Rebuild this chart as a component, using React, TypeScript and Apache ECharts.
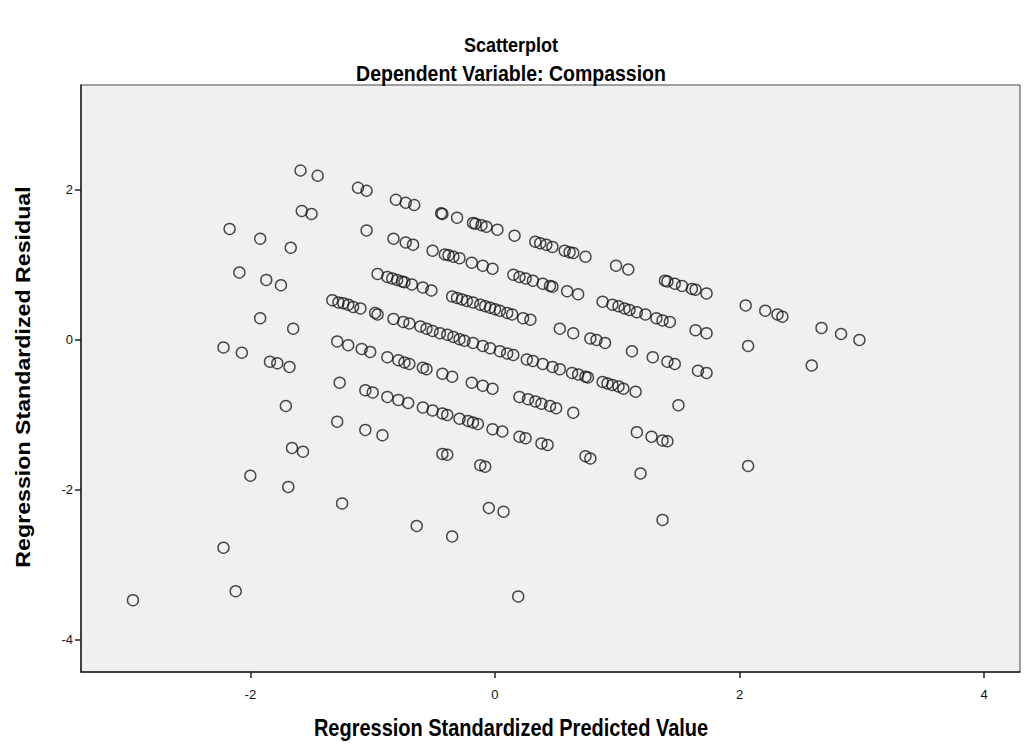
import React, { useEffect, useRef } from "react";
import * as echarts from "echarts";

// Regression Standardized Predicted Value (x), Regression Standardized Residual (y)
const band1: [number, number][] = [
  [-1.59, 2.26], [-1.45, 2.19], [-1.12, 2.03], [-1.05, 1.99], [-0.81, 1.87], [-0.73, 1.83], [-0.66, 1.8],
  [-0.44, 1.69], [-0.43, 1.68], [-0.31, 1.63], [-0.18, 1.56], [-0.16, 1.55], [-0.11, 1.53], [-0.07, 1.51],
  [0.02, 1.47], [0.16, 1.39], [0.33, 1.31], [0.37, 1.29], [0.42, 1.27], [0.47, 1.24], [0.57, 1.19],
  [0.61, 1.17], [0.64, 1.16], [0.74, 1.11], [0.99, 0.99], [1.09, 0.94], [1.39, 0.79], [1.41, 0.78],
  [1.47, 0.75], [1.53, 0.72], [1.61, 0.68], [1.64, 0.67], [1.73, 0.62], [2.05, 0.46], [2.21, 0.39],
  [2.31, 0.34], [2.35, 0.31], [2.67, 0.16], [2.83, 0.08], [2.98, 0.0],
];
const band2: [number, number][] = [
  [-1.58, 1.72], [-1.5, 1.68], [-1.05, 1.46], [-0.83, 1.35], [-0.73, 1.3], [-0.67, 1.27], [-0.51, 1.19],
  [-0.41, 1.14], [-0.38, 1.13], [-0.34, 1.11], [-0.29, 1.09], [-0.19, 1.03], [-0.1, 0.99], [-0.02, 0.95],
  [0.15, 0.87], [0.2, 0.84], [0.25, 0.82], [0.31, 0.79], [0.39, 0.75], [0.45, 0.72], [0.47, 0.71],
  [0.59, 0.65], [0.68, 0.61], [0.88, 0.51], [0.96, 0.47], [1.01, 0.45], [1.06, 0.42], [1.1, 0.4],
  [1.16, 0.37], [1.23, 0.34], [1.32, 0.29], [1.37, 0.26], [1.43, 0.24], [1.64, 0.13], [1.73, 0.09],
  [2.07, -0.08], [2.59, -0.34],
];
const band3: [number, number][] = [
  [-2.17, 1.48], [-1.92, 1.35], [-1.67, 1.23], [-0.96, 0.88], [-0.88, 0.84], [-0.84, 0.82], [-0.8, 0.8],
  [-0.76, 0.78], [-0.74, 0.77], [-0.68, 0.74], [-0.59, 0.7], [-0.52, 0.66], [-0.35, 0.58], [-0.31, 0.56],
  [-0.27, 0.54], [-0.23, 0.52], [-0.18, 0.5], [-0.12, 0.47], [-0.08, 0.45], [-0.04, 0.43], [0.0, 0.41],
  [0.04, 0.39], [0.1, 0.36], [0.14, 0.34], [0.23, 0.29], [0.29, 0.27], [0.53, 0.15], [0.64, 0.09],
  [0.78, 0.02], [0.83, 0.0], [0.9, -0.04], [1.12, -0.15], [1.29, -0.23], [1.41, -0.29], [1.47, -0.32],
  [1.66, -0.41], [1.73, -0.44],
];
const band4: [number, number][] = [
  [-2.09, 0.9], [-1.87, 0.8], [-1.75, 0.73], [-1.33, 0.53], [-1.28, 0.5], [-1.24, 0.49], [-1.2, 0.47],
  [-1.16, 0.44], [-1.1, 0.42], [-0.98, 0.36], [-0.96, 0.34], [-0.83, 0.28], [-0.75, 0.24], [-0.7, 0.22],
  [-0.61, 0.18], [-0.56, 0.15], [-0.51, 0.12], [-0.45, 0.09], [-0.39, 0.07], [-0.34, 0.04], [-0.29, 0.01],
  [-0.25, -0.01], [-0.18, -0.04], [-0.1, -0.08], [-0.04, -0.11], [0.04, -0.15], [0.1, -0.18], [0.15, -0.2],
  [0.26, -0.26], [0.31, -0.28], [0.39, -0.32], [0.47, -0.36], [0.53, -0.39], [0.63, -0.44], [0.68, -0.46],
  [0.74, -0.49], [0.76, -0.5], [0.88, -0.56], [0.92, -0.58], [0.96, -0.6], [1.01, -0.62], [1.05, -0.65],
  [1.15, -0.69], [1.5, -0.87],
];
const band5: [number, number][] = [
  [-1.92, 0.29], [-1.65, 0.15], [-1.29, -0.02], [-1.2, -0.07], [-1.09, -0.12], [-1.02, -0.16], [-0.88, -0.23],
  [-0.79, -0.27], [-0.74, -0.3], [-0.7, -0.32], [-0.59, -0.37], [-0.56, -0.39], [-0.43, -0.45], [-0.35, -0.49],
  [-0.19, -0.57], [-0.1, -0.61], [-0.02, -0.65], [0.2, -0.76], [0.27, -0.79], [0.33, -0.82], [0.38, -0.85],
  [0.45, -0.88], [0.5, -0.91], [0.64, -0.97], [1.16, -1.23], [1.28, -1.29], [1.37, -1.34], [1.41, -1.35],
  [2.07, -1.68],
];
const band6: [number, number][] = [
  [-2.22, -0.1], [-2.07, -0.17], [-1.84, -0.29], [-1.78, -0.31], [-1.68, -0.36], [-1.27, -0.57], [-1.06, -0.67],
  [-1.0, -0.7], [-0.88, -0.76], [-0.79, -0.8], [-0.71, -0.84], [-0.59, -0.9], [-0.51, -0.94], [-0.43, -0.98],
  [-0.39, -1.0], [-0.29, -1.05], [-0.22, -1.08], [-0.18, -1.1], [-0.14, -1.12], [-0.02, -1.19], [0.06, -1.22],
  [0.2, -1.29], [0.25, -1.31], [0.38, -1.38], [0.43, -1.4], [0.74, -1.55], [0.78, -1.58], [1.19, -1.78],
];
const band7: [number, number][] = [
  [-1.71, -0.88], [-1.29, -1.09], [-1.06, -1.2], [-0.92, -1.27], [-0.43, -1.52], [-0.39, -1.53],
  [-0.12, -1.67], [-0.08, -1.69], [1.37, -2.4],
];
const band8: [number, number][] = [[-1.66, -1.44], [-1.57, -1.49], [-0.05, -2.24], [0.07, -2.29]];
const band9: [number, number][] = [[-2.0, -1.81], [-1.69, -1.96], [-1.25, -2.18], [-0.64, -2.48], [-0.35, -2.62]];
const lowOutliers: [number, number][] = [[0.19, -3.42], [-2.22, -2.77], [-2.12, -3.35], [-2.96, -3.47]];

const xTicks = [-2, 0, 2, 4];
const yTicks = [-4, -2, 0, 2];

const titleMain = "Scatterplot";
const titleSub = "Dependent Variable: Compassion";
const xName = "Regression Standardized Predicted Value";
const yName = "Regression Standardized Residual";

const FONT = "'Liberation Sans', Arial, sans-serif";
const STRETCH = 1.16;

export default function App() {
  const ref = useRef<HTMLDivElement>(null);
  useEffect(() => {
    if (!ref.current) return;
    const chart = echarts.init(ref.current, null, { renderer: "svg" });
    const points = [
      ...band1, ...band2, ...band3, ...band4, ...band5, ...band6, ...band7, ...band8, ...band9, ...lowOutliers,
    ];
    chart.setOption({
      animation: false,
      backgroundColor: "#ffffff",
      grid: {
        left: 81,
        right: 6,
        top: 85,
        bottom: 75,
        show: true,
        backgroundColor: "#f0f0f0",
        borderColor: "#444",
        borderWidth: 1,
      },
      xAxis: {
        type: "value",
        min: -3.385,
        max: 4.293,
        axisLine: { show: true, onZero: false, lineStyle: { color: "#222", width: 1.5 } },
        axisTick: { show: true, customValues: xTicks, length: 6, lineStyle: { color: "#222", width: 1.5 } },
        axisLabel: { customValues: xTicks, color: "#111", fontSize: 13, margin: 16, fontFamily: FONT },
        splitLine: { show: false },
      },
      yAxis: {
        type: "value",
        min: -4.427,
        max: 3.4,
        axisLine: { show: true, onZero: false, lineStyle: { color: "#222", width: 1.5 } },
        axisTick: { show: true, customValues: yTicks, length: 6, lineStyle: { color: "#222", width: 1.5 } },
        axisLabel: { customValues: yTicks, color: "#111", fontSize: 13, margin: 8, fontFamily: FONT },
        splitLine: { show: false },
      },
      graphic: [
        {
          type: "text",
          x: 511,
          y: 45,
          scaleY: STRETCH,
          style: { text: titleMain, font: `bold 18px ${FONT}`, fill: "#000", textAlign: "center", textVerticalAlign: "middle" },
        },
        {
          type: "text",
          x: 511,
          y: 73,
          scaleY: STRETCH,
          style: { text: titleSub, font: `bold 19.5px ${FONT}`, fill: "#000", textAlign: "center", textVerticalAlign: "middle" },
        },
        {
          type: "text",
          x: 511,
          y: 728,
          scaleY: STRETCH,
          style: { text: xName, font: `bold 20px ${FONT}`, fill: "#000", textAlign: "center", textVerticalAlign: "middle" },
        },
        {
          type: "text",
          x: 23,
          y: 377,
          rotation: Math.PI / 2,
          scaleX: STRETCH,
          style: { text: yName, font: `bold 20px ${FONT}`, fill: "#000", textAlign: "center", textVerticalAlign: "middle" },
        },
      ],
      series: [
        {
          type: "scatter",
          data: points,
          symbol: "circle",
          symbolSize: 11,
          itemStyle: { color: "transparent", borderColor: "#1a1a1a", borderWidth: 1.4 },
          emphasis: { disabled: true },
        },
      ],
    });
    return () => chart.dispose();
  }, []);
  return (
    <div
      ref={ref}
      style={{ position: "fixed", left: 0, top: 0, width: 1026, height: 747, background: "#fff" }}
    />
  );
}
